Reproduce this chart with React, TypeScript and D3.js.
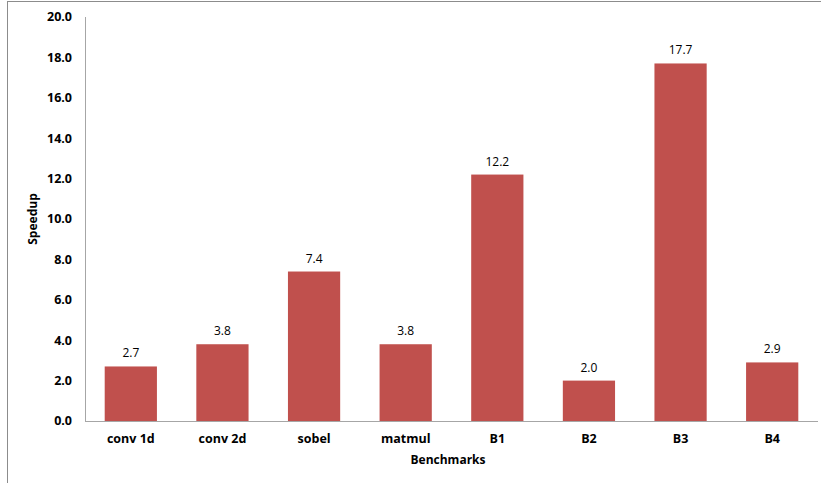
import React from "react";
import * as d3 from "d3";

const categories = ["conv 1d", "conv 2d", "sobel", "matmul", "B1", "B2", "B3", "B4"];
const speedups = [2.7, 3.8, 7.4, 3.8, 12.2, 2.0, 17.7, 2.9];
const yTicks = [0, 2, 4, 6, 8, 10, 12, 14, 16, 18, 20];

const W = 821;
const H = 483;
const left = 85;
const right = 818;
const top = 17;
const bottom = 421;
const font = "'Open Sans', 'Liberation Sans', sans-serif";

export default function App() {
  const x = d3.scaleBand<string>().domain(categories).range([left, right]).paddingInner(0.43).paddingOuter(0.215);
  const y = d3.scaleLinear().domain([0, 20]).range([bottom, top]);
  const fmt = d3.format(".1f");

  return (
    <svg width={W} height={H} style={{ position: "absolute", left: 0, top: 0, background: "#fff" }}>
      <rect x={7.5} y={1.5} width={W + 10} height={H + 10} fill="#fff" stroke="#8c8c8c" strokeWidth={1} />
      <line x1={left + 0.5} x2={left + 0.5} y1={top} y2={bottom} stroke="#a6a6a6" />
      {yTicks.map((t) => (
        <text key={t} x={72} y={y(t)} dy="0.35em" textAnchor="end" fontFamily={font} fontSize={12.5} fontWeight="bold" fill="#000">
          {fmt(t)}
        </text>
      ))}
      {categories.map((c, i) => (
        <g key={c}>
          <rect x={x(c)} y={y(speedups[i])} width={x.bandwidth()} height={y(0) - y(speedups[i])} fill="#c0504d" />
          <text x={(x(c) as number) + x.bandwidth() / 2} y={y(speedups[i]) - 9} textAnchor="middle" fontFamily={font} fontSize={12} fill="#000">
            {fmt(speedups[i])}
          </text>
          <text x={(x(c) as number) + x.bandwidth() / 2} y={443} textAnchor="middle" fontFamily={font} fontSize={12.5} fontWeight="bold" fill="#000">
            {c}
          </text>
        </g>
      ))}
      <line x1={left} x2={right} y1={bottom + 0.5} y2={bottom + 0.5} stroke="#a6a6a6" />
      <text transform={`translate(37,${(top + bottom) / 2}) rotate(-90)`} textAnchor="middle" fontFamily={font} fontSize={12} fontWeight="bold" fill="#000">
        Speedup
      </text>
      <text x={448} y={464} textAnchor="middle" fontFamily={font} fontSize={12} fontWeight="bold" fill="#000">
        Benchmarks
      </text>
    </svg>
  );
}
